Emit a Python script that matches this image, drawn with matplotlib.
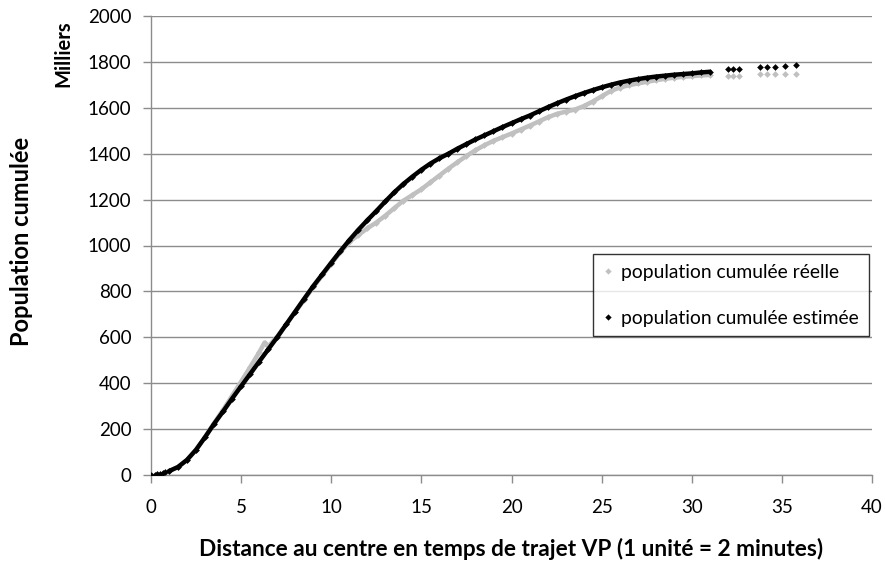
import numpy as np
import matplotlib
matplotlib.use("Agg")
import matplotlib.pyplot as plt
from matplotlib.lines import Line2D

# Distance to centre (1 unit = 2 minutes by car) and cumulated population (thousands)
dist_real = [0.0, 0.2, 0.35, 0.5, 0.65, 0.8, 1.0, 1.5, 2.0, 2.5, 3.0, 3.5, 4.0, 4.5,
             5.0, 5.5, 6.0, 6.3, 6.5, 7.0, 7.5, 8.0, 8.5, 9.0, 9.5, 10.0, 10.5, 11.0,
             11.5, 12.0, 12.5, 13.0, 13.5, 14.0, 14.5, 15.0, 15.5, 16.0, 16.5, 17.0,
             17.5, 18.0, 18.5, 19.0, 19.5, 20.0, 20.5, 21.0, 21.5, 22.0, 22.5, 23.0,
             23.5, 24.0, 24.5, 25.0, 25.5, 26.0, 26.5, 27.0, 27.5, 28.0, 28.5, 29.0,
             29.5, 30.0, 30.5, 31.0, 32.0, 32.3, 32.6, 33.8, 34.2, 34.6, 35.2, 35.8]
pop_real = [0, 2, 4, 6, 9, 12, 17, 35, 66, 110, 165, 226, 284, 345,
            407, 470, 534, 577, 560, 603, 656, 710, 764, 818, 870, 921, 970, 1015,
            1045, 1075, 1100, 1130, 1163, 1195, 1220, 1245, 1275, 1305, 1335, 1363,
            1390, 1415, 1437, 1456, 1472, 1488, 1505, 1522, 1540, 1558, 1573, 1583,
            1592, 1607, 1627, 1650, 1673, 1688, 1698, 1706, 1713, 1720, 1726, 1731,
            1735, 1738, 1741, 1743, 1739, 1739, 1740, 1746, 1746, 1746, 1746, 1746]

dist_est = [0.0, 0.2, 0.35, 0.5, 0.65, 0.8, 1.0, 1.5, 2.0, 2.5, 3.0, 3.5, 4.0, 4.5,
            5.0, 5.5, 6.0, 6.5, 7.0, 7.5, 8.0, 8.5, 9.0, 9.5, 10.0, 10.5, 11.0,
            11.5, 12.0, 12.5, 13.0, 13.5, 14.0, 14.5, 15.0, 15.5, 16.0, 16.5, 17.0,
            17.5, 18.0, 18.5, 19.0, 19.5, 20.0, 20.5, 21.0, 21.5, 22.0, 22.5, 23.0,
            23.5, 24.0, 24.5, 25.0, 25.5, 26.0, 26.5, 27.0, 27.5, 28.0, 28.5, 29.0,
            29.5, 30.0, 30.5, 31.0, 32.0, 32.3, 32.6, 33.8, 34.2, 34.6, 35.2, 35.8]
pop_est = [0, 2, 4, 6, 9, 12, 17, 35, 66, 110, 165, 223, 277, 333,
           387, 440, 494, 547, 600, 656, 712, 768, 823, 874, 925, 975, 1023,
           1068, 1110, 1150, 1192, 1232, 1268, 1300, 1330, 1357, 1380, 1400, 1422,
           1442, 1462, 1480, 1498, 1516, 1533, 1550, 1566, 1584, 1602, 1619, 1635,
           1650, 1664, 1677, 1689, 1700, 1710, 1718, 1725, 1731, 1736, 1740, 1744,
           1747, 1750, 1754, 1757, 1768, 1768, 1769, 1778, 1779, 1779, 1780, 1786]

label_real = "population cumulée réelle"
label_est = "population cumulée estimée"
x_ticks = [0, 5, 10, 15, 20, 25, 30, 35, 40]
y_ticks = [0, 200, 400, 600, 800, 1000, 1200, 1400, 1600, 1800, 2000]

FONT = "Lato"
plt.rcParams["font.family"] = [FONT, "DejaVu Sans"]

W, H = 886, 563
fig = plt.figure(figsize=(W / 100, H / 100), dpi=100)
ax = fig.add_axes([151 / W, 1 - 475 / H, (872 - 151) / W, (475 - 16) / H])

GRID = "#8c8c8c"
GRAY = "#c0c0c0"


def draw_series(x, y, color, z):
    x = np.asarray(x, dtype=float)
    y = np.asarray(y, dtype=float)
    dense = (x >= 0.9) & (x <= 31.2)
    ax.plot(x[dense], y[dense], "-", color=color, lw=3.2,
            solid_capstyle="round", zorder=z)
    ax.plot(x, y, "D", color=color, ms=3.4, mew=0, ls="none", zorder=z)


draw_series(dist_real, pop_real, GRAY, 3)
draw_series(dist_est, pop_est, "black", 4)

ax.set_xlim(0, 40)
ax.set_ylim(0, 2000)
ax.set_xticks(x_ticks)
ax.set_yticks(y_ticks)
ax.set_xticklabels([str(v) for v in x_ticks])
ax.set_yticklabels([str(v) for v in y_ticks])
ax.yaxis.grid(True, color=GRID, lw=1.0)
ax.xaxis.grid(False)
ax.set_axisbelow(True)
for s in ("top", "right"):
    ax.spines[s].set_visible(False)
for s in ("left", "bottom"):
    ax.spines[s].set_color(GRID)
    ax.spines[s].set_linewidth(1.0)
ax.tick_params(axis="both", colors=GRID, length=6, width=1.0,
               labelcolor="black", labelsize=13.5)
ax.tick_params(axis="x", pad=11)
ax.tick_params(axis="y", pad=8)

fig.text(511 / W, 1 - 549 / H,
         "Distance au centre en temps de trajet VP (1 unité = 2 minutes)",
         ha="center", va="center", fontsize=16.3, fontweight="bold")
fig.text(22 / W, 1 - 241 / H, "Population cumulée", rotation=90,
         ha="center", va="center", fontsize=17, fontweight="bold")
fig.text(63 / W, 1 - 54 / H, "Milliers", rotation=90,
         ha="center", va="center", fontsize=14.5, fontweight="bold")

handles = [
    Line2D([], [], marker="D", color=GRAY, ls="none", ms=3.2, mew=0),
    Line2D([], [], marker="D", color="black", ls="none", ms=3.2, mew=0),
]
leg = ax.legend(handles, [label_real, label_est], loc="upper left",
                bbox_to_anchor=((593 - 151) / (872 - 151), (475 - 254) / (475 - 16)),
                frameon=True, fancybox=False, edgecolor="black",
                fontsize=13.9, handlelength=0.6, handletextpad=0.36,
                labelspacing=1.5, borderpad=0.5, borderaxespad=0)
leg.get_frame().set_linewidth(1.0)

fig.savefig("out.png", dpi=100)
